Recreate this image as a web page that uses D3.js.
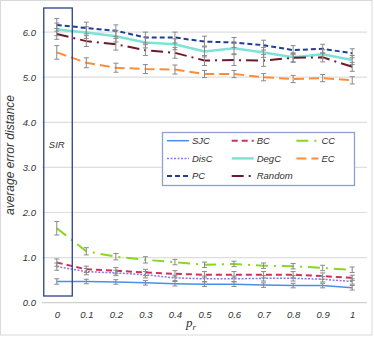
<!DOCTYPE html>
<head>
    <script type="text/javascript" src="https://d3js.org/d3.v7.min.js"></script>
    <style>
        body { margin: 0; background: #fff; }
        .chart text { font-family: "Liberation Sans", Arial, sans-serif; font-style: italic; fill: #333; }
    </style>
</head>

<svg class="chart" width="374" height="348"></svg>

<script>
    // data
    var pr = ["0", "0.1", "0.2", "0.3", "0.4", "0.5", "0.6", "0.7", "0.8", "0.9", "1"];
    var yTicks = [0, 1, 2, 3, 4, 5, 6];
    var names = ["SJC", "BC", "CC", "DisC", "DegC", "EC", "PC", "Random"];

    var SJC = [0.47, 0.47, 0.46, 0.44, 0.42, 0.41, 0.41, 0.39, 0.38, 0.38, 0.33];
    var BC = [0.89, 0.74, 0.71, 0.67, 0.64, 0.62, 0.62, 0.62, 0.62, 0.59, 0.55];
    var CC = [1.65, 1.14, 1.02, 0.95, 0.90, 0.84, 0.86, 0.82, 0.81, 0.77, 0.73];
    var DisC = [0.80, 0.69, 0.66, 0.62, 0.55, 0.53, 0.53, 0.54, 0.54, 0.52, 0.47];
    var DegC = [6.06, 5.99, 5.91, 5.77, 5.73, 5.57, 5.64, 5.55, 5.44, 5.51, 5.38];
    var EC = [5.55, 5.32, 5.21, 5.18, 5.17, 5.07, 5.07, 5.00, 4.96, 4.98, 4.93];
    var PC = [6.16, 6.09, 6.03, 5.88, 5.88, 5.79, 5.77, 5.71, 5.60, 5.63, 5.53];
    var Random = [5.96, 5.80, 5.73, 5.60, 5.54, 5.37, 5.38, 5.37, 5.43, 5.44, 5.23];

    // error bar half widths
    var errSJC = [0.06, 0.05, 0.05, 0.05, 0.05, 0.05, 0.05, 0.05, 0.05, 0.05, 0.05];
    var errBC = [0.08, 0.07, 0.07, 0.07, 0.07, 0.07, 0.07, 0.07, 0.07, 0.07, 0.06];
    var errCC = [0.15, 0.08, 0.07, 0.07, 0.06, 0.06, 0.06, 0.06, 0.06, 0.06, 0.06];
    var errDisC = [0.08, 0.07, 0.06, 0.07, 0.06, 0.06, 0.06, 0.06, 0.06, 0.06, 0.06];
    var errDegC = [0.14, 0.13, 0.13, 0.12, 0.12, 0.12, 0.12, 0.11, 0.10, 0.10, 0.10];
    var errEC = [0.15, 0.11, 0.10, 0.10, 0.10, 0.08, 0.08, 0.08, 0.08, 0.08, 0.08];
    var errPC = [0.14, 0.13, 0.13, 0.12, 0.12, 0.12, 0.11, 0.11, 0.10, 0.10, 0.10];
    var errRandom = [0.12, 0.12, 0.13, 0.12, 0.12, 0.11, 0.12, 0.13, 0.10, 0.10, 0.10];

    var series = [
        { name: "SJC", values: SJC, err: errSJC, color: "#4a8fe7", dash: null, w: 1.5 },
        { name: "BC", values: BC, err: errBC, color: "#cc3355", dash: "6,4", w: 2 },
        { name: "CC", values: CC, err: errCC, color: "#88d822", dash: "12,6,2,6", w: 2 },
        { name: "DisC", values: DisC, err: errDisC, color: "#8877ee", dash: "2,1.5", w: 1.5 },
        { name: "DegC", values: DegC, err: errDegC, color: "#7de3d6", dash: null, w: 2.5 },
        { name: "EC", values: EC, err: errEC, color: "#ff8c3a", dash: "10,5", w: 2 },
        { name: "PC", values: PC, err: errPC, color: "#1f3e96", dash: "5,3", w: 2 },
        { name: "Random", values: Random, err: errRandom, color: "#6e1a2c", dash: "12,5,2,5", w: 2 }
    ];

    var left = 42, right = 367, bottom = 302.7;

    var x = d3.scalePoint()
        .domain(pr)
        .range([left, right])
        .padding(0.5);

    var y = d3.scaleLinear()
        .domain([0, 6.6])
        .range([bottom, bottom - 6.6 * 45.1]);

    var chart = d3.select(".chart");

    // outer border
    chart.append("rect")
        .attr("x", 0.5).attr("y", 0.5)
        .attr("width", 371.5).attr("height", 334.5)
        .attr("fill", "none")
        .attr("stroke", "#d9d9d9");

    // grid
    chart.append("g")
        .selectAll("line")
        .data(yTicks)
        .enter().append("line")
        .attr("x1", left).attr("x2", right)
        .attr("y1", function(d) { return y(d); })
        .attr("y2", function(d) { return y(d); })
        .attr("stroke", function(d) { return d == 0 ? "#cfcfcf" : "#dedede"; })
        .attr("stroke-width", 1.2);

    // y axis labels
    var yAxis = chart.append("g")
        .attr("transform", "translate(" + (left - 3) + ",0)")
        .call(d3.axisLeft(y).tickValues(yTicks).tickFormat(d3.format(".1f")).tickSize(0));
    yAxis.select(".domain").remove();
    yAxis.selectAll("text").attr("font-size", 9.5).attr("x", -3).attr("fill", "#333");

    // x axis labels
    var xAxis = chart.append("g")
        .attr("transform", "translate(0," + (bottom + 6) + ")")
        .call(d3.axisBottom(x).tickSize(0));
    xAxis.select(".domain").remove();
    xAxis.selectAll("text").attr("font-size", 9.5).attr("fill", "#333");

    // lines
    var line = d3.line()
        .x(function(d, i) { return x(pr[i]); })
        .y(function(d) { return y(d); });

    chart.append("g")
        .selectAll("path")
        .data(series)
        .enter().append("path")
        .attr("d", function(s) { return line(s.values); })
        .attr("fill", "none")
        .attr("stroke", function(s) { return s.color; })
        .attr("stroke-width", function(s) { return s.w; })
        .attr("stroke-dasharray", function(s) { return s.dash; });

    // error bars
    var bars = [];
    series.forEach(function(s) {
        s.values.forEach(function(v, i) {
            bars.push({ x: pr[i], lo: v - s.err[i], hi: v + s.err[i] });
        });
    });

    var eb = chart.append("g")
        .attr("stroke", "#8a8a8a")
        .attr("stroke-width", 1);

    eb.selectAll(".v").data(bars).enter().append("line")
        .attr("x1", function(d) { return x(d.x); })
        .attr("x2", function(d) { return x(d.x); })
        .attr("y1", function(d) { return y(d.lo); })
        .attr("y2", function(d) { return y(d.hi); });
    eb.selectAll(".t").data(bars).enter().append("line")
        .attr("x1", function(d) { return x(d.x) - 2.5; })
        .attr("x2", function(d) { return x(d.x) + 2.5; })
        .attr("y1", function(d) { return y(d.hi); })
        .attr("y2", function(d) { return y(d.hi); });
    eb.selectAll(".b").data(bars).enter().append("line")
        .attr("x1", function(d) { return x(d.x) - 2.5; })
        .attr("x2", function(d) { return x(d.x) + 2.5; })
        .attr("y1", function(d) { return y(d.lo); })
        .attr("y2", function(d) { return y(d.lo); });

    // SIR box
    chart.append("rect")
        .attr("x", x("0") - 13).attr("y", 8)
        .attr("width", 28.5).attr("height", 288)
        .attr("fill", "none")
        .attr("stroke", "#2c3f8c")
        .attr("stroke-width", 1.3);
    chart.append("text")
        .attr("x", x("0")).attr("y", 148)
        .attr("text-anchor", "middle")
        .attr("font-size", 9.5)
        .text("SIR");

    // legend
    var lg = chart.append("g");
    lg.append("rect")
        .attr("x", 162.5).attr("y", 132.5)
        .attr("width", 192).attr("height", 53)
        .attr("fill", "#fff")
        .attr("stroke", "#8fa0cc")
        .attr("stroke-width", 1.3);

    var item = lg.selectAll(".item")
        .data(series)
        .enter().append("g")
        .attr("transform", function(d, i) {
            return "translate(" + (167 + (i % 3) * 64.7) + "," + (140.7 + Math.floor(i / 3) * 17.7) + ")";
        });
    item.append("line")
        .attr("x1", 0).attr("x2", 22)
        .attr("stroke", function(s) { return s.color; })
        .attr("stroke-width", function(s) { return s.w; })
        .attr("stroke-dasharray", function(s) { return s.dash; });
    item.append("text")
        .attr("x", 25).attr("dy", "0.35em")
        .attr("font-size", 9.5)
        .text(function(s) { return s.name; });

    // axis titles
    chart.append("text")
        .attr("transform", "translate(13.5,155) rotate(-90)")
        .attr("text-anchor", "middle")
        .attr("font-size", 12)
        .text("average error distance");

    var xt = chart.append("text")
        .attr("x", 186).attr("y", 327)
        .style("font-family", "'Liberation Serif', serif")
        .attr("font-size", 13);
    xt.append("tspan").text("p");
    xt.append("tspan").attr("font-size", 9).attr("dy", 3).text("r");
</script>
